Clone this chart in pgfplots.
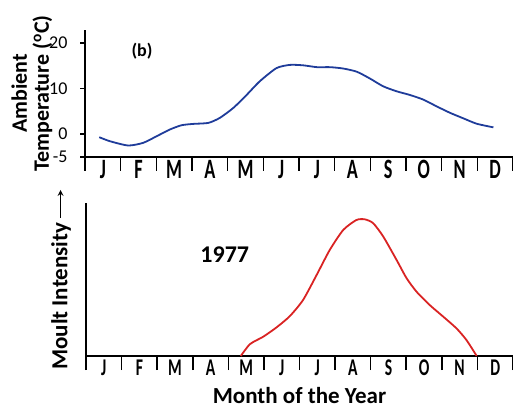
\documentclass[border=0pt]{standalone}
\usepackage{fontspec}
\setmainfont{Carlito}
\newfontfamily\condfont[FakeStretch=0.65]{Carlito}
\usepackage{pgfplots}
\pgfplotsset{compat=1.18}

\definecolor{tempblue}{HTML}{1F3C9A}
\definecolor{moultred}{HTML}{D92323}

\pgfplotsset{
  monthaxis/.style={
    scale only axis,
    xmin=0, xmax=12,
    axis x line=bottom, axis y line=left,
    axis line style={-, line width=2.5pt, black},
    xtick={0,...,12},
    xticklabels={},
    extra x ticks={0.5,1.5,...,11.5},
    extra x tick labels={J,F,M,A,M,J,J,A,S,O,N,D},
    extra x tick style={major tick length=0pt},
    tick align=outside,
    major tick length=14pt,
    tick style={line width=1.6pt, black},
    clip=false,
  },
}

\begin{document}
\begin{tikzpicture}
\path[use as bounding box] (0,0) rectangle (513pt,409pt);

% top panel: ambient temperature
\begin{axis}[monthaxis,
  at={(85pt,252pt)}, anchor=south west,
  width=428pt, height=127pt,
  ymin=-5, ymax=22.85,
  ytick={-5,0,10,20},
  ytick style={/pgfplots/major tick length=5pt},
  xticklabel style={font=\condfont\bfseries\fontsize{28}{28}\selectfont},
  yticklabel style={font=\fontsize{18}{18}\selectfont},
  /pgf/number format/assume math mode=true,
  ylabel={Ambient\\Temperature (\textsuperscript{o}C)},
  ylabel style={at={(axis description cs:-0.124,0.5)}, anchor=center,
    align=center, font=\bfseries\fontsize{22}{22}\selectfont},
]
\addplot[smooth, tension=0.4, tempblue, line width=1.8pt] coordinates {
  (0.40,-0.66) (0.70,-1.54) (1.21,-2.48) (1.63,-1.9) (2.01,-0.44)
  (2.38,1.03) (2.71,1.97) (3.04,2.26) (3.46,2.48) (3.78,3.58)
  (4.16,5.77) (4.53,8.6) (4.9,11.6) (5.37,14.5) (5.75,15.2)
  (6.12,15.1) (6.50,14.7) (6.87,14.7) (7.24,14.4) (7.62,13.7)
  (7.99,12.2) (8.36,10.5) (8.74,9.4) (9.11,8.6) (9.48,7.6)
  (9.86,6.1) (10.23,4.7) (10.6,3.5) (10.98,2.3) (11.45,1.5)
};
\node[font=\bfseries\fontsize{18}{18}\selectfont] at (axis cs:1.6,18.2) {(b)};
\end{axis}

% bottom panel: moult intensity
\begin{axis}[monthaxis,
  at={(86pt,53pt)}, anchor=south west,
  width=427pt, height=153pt,
  ymin=0, ymax=100,
  ytick=\empty,
  xticklabel style={font=\condfont\bfseries\fontsize{24}{24}\selectfont},
  ylabel={Moult Intensity\,\tikz[baseline=-0.6ex]\draw[-stealth, line width=1.6pt] (0,0) -- (28pt,0);},
  ylabel style={at={(axis description cs:-0.0585,0.5)}, anchor=center,
    font=\bfseries\fontsize{23}{23}\selectfont},
  xlabel={Month of the Year},
  xlabel style={at={(axis description cs:0.5,0)}, anchor=center, yshift=-40pt,
    font=\bfseries\fontsize{23}{23}\selectfont},
]
\addplot[smooth, tension=0.4, moultred, line width=1.8pt] coordinates {
  (4.35,0) (4.61,7.8) (4.98,12.6) (5.36,18.8) (5.73,26.1) (6.10,36.6)
  (6.48,52.9) (6.85,69.3) (7.23,82.4) (7.60,88.9) (7.84,89.3) (8.07,86.8)
  (8.35,78.2) (8.73,62.7) (9.01,50.8) (9.29,42.0) (9.66,33.3) (10.04,25.7)
  (10.41,18.1) (10.69,10.5) (10.98,0)
};
\node[font=\bfseries\fontsize{24}{24}\selectfont] at (axis cs:3.9,66) {1977};
\end{axis}
\end{tikzpicture}
\end{document}
